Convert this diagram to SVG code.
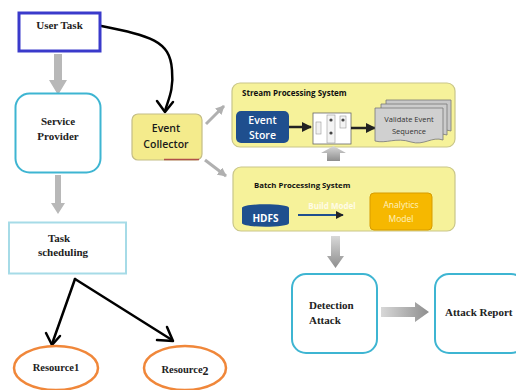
<svg xmlns="http://www.w3.org/2000/svg" width="516" height="390" viewBox="0 0 516 390">
<defs>
<style>
.serif{font-family:"Liberation Serif","Times New Roman",serif;font-weight:bold;fill:#222}
.sans{font-family:"Open Sans","Liberation Sans",Arial,sans-serif}
.cyanbox{fill:#fff;stroke:#3eb5d2;stroke-width:2}
.sys{fill:#f6f29a;stroke:#c9c68a;stroke-width:1.2}
.gray{fill:#b8b8b8}
.blk{fill:none;stroke:#000;stroke-width:2.5;stroke-linecap:round;stroke-linejoin:round}
.orange{fill:#fff;stroke:#f0873a;stroke-width:2.5}
</style>
<linearGradient id="hg" x1="0" y1="0" x2="1" y2="0">
<stop offset="0" stop-color="#d8d8d8"/><stop offset="1" stop-color="#8e8e8e"/>
</linearGradient>
<linearGradient id="vg" x1="0" y1="0" x2="0" y2="1">
<stop offset="0" stop-color="#d8d8d8"/><stop offset="1" stop-color="#8e8e8e"/>
</linearGradient>
<marker id="dk" viewBox="0 0 10 10" refX="9" refY="5" markerWidth="4" markerHeight="4" orient="auto">
<path d="M0,0 L10,5 L0,10 z" fill="#222"/>
</marker>
<marker id="gr" viewBox="0 0 10 10" refX="9" refY="5" markerWidth="3" markerHeight="3" orient="auto">
<path d="M0,0 L10,5 L0,10 z" fill="#b0b0b0"/>
</marker>
</defs>
<rect width="516" height="390" fill="#fff"/>

<g id="connectors">
<path class="gray" d="M54,54 H62 V80 H67 L58,95 L49,80 H54 Z"/>
<path class="gray" d="M55,175 H61 V203 H65 L58,214 L51,203 H55 Z"/>
<path class="blk" d="M101,26 C150,36 170,40 172,70 C174,90 168,100 165,111"/>
<path class="blk" d="M157,101 L165,112 L173,102"/>
<path class="blk" d="M75,279 L52,344"/>
<path class="blk" d="M46,333 L52,345 L60,336"/>
<path class="blk" d="M75,279 L172,340"/>
<path class="blk" d="M157,340 L173,341 L167,327"/>
<line x1="206" y1="124" x2="224" y2="106" stroke="#b0b0b0" stroke-width="3" marker-end="url(#gr)"/>
<line x1="205" y1="160" x2="226" y2="176" stroke="#b0b0b0" stroke-width="3" marker-end="url(#gr)"/>
<path fill="url(#vg)" d="M331,236 H340 V256 H344 L335.5,268 L327,256 H331 Z"/>
<path fill="url(#hg)" d="M381,307 H415 V302 L429,312 L415,322 V317 H381 Z"/>
</g>

<g id="user-task">
<rect x="19" y="13" width="81" height="38" fill="#fff" stroke="#3a3acb" stroke-width="3"/>
<text x="59.5" y="29" class="serif" font-size="11" text-anchor="middle">User Task</text>
</g>

<g id="service-provider">
<rect x="15.5" y="93.5" width="85" height="79" rx="14" class="cyanbox"/>
<text x="58" y="125" class="serif" font-size="11" text-anchor="middle">Service</text>
<text x="58" y="140" class="serif" font-size="11" text-anchor="middle">Provider</text>
</g>

<g id="task-scheduling">
<rect x="9" y="222.5" width="117" height="51" fill="#fff" stroke="#a6dbe7" stroke-width="2"/>
<text x="59" y="242" class="serif" font-size="11" text-anchor="middle">Task</text>
<text x="63" y="256" class="serif" font-size="11" text-anchor="middle">scheduling</text>
</g>

<g id="resource1">
<ellipse cx="56" cy="368" rx="42" ry="22" class="orange"/>
<text x="56" y="371" class="serif" font-size="10.5" text-anchor="middle">Resource1</text>
</g>

<g id="resource2">
<ellipse cx="185" cy="368" rx="41" ry="22" class="orange"/>
<text x="185" y="373" class="serif" font-size="10.5" text-anchor="middle">Resource<tspan font-size="12" dy="2">2</tspan></text>
</g>

<g id="event-collector">
<rect x="132" y="114" width="70" height="46" rx="6" fill="#f4eb8c" stroke="#c4bd86" stroke-width="1.2"/>
<line x1="164" y1="159.5" x2="199" y2="159.5" stroke="#b0504a" stroke-width="1.5"/>
<text x="166" y="132" class="sans" font-size="10.5" font-weight="600" fill="#1a1a1a" text-anchor="middle">Event</text>
<text x="166" y="148" class="sans" font-size="10.5" font-weight="600" fill="#1a1a1a" text-anchor="middle">Collector</text>
</g>

<g id="stream-processing-system">
<rect x="232" y="83" width="223" height="64" rx="8" class="sys"/>
<text x="242" y="96" class="sans" font-size="8" font-weight="bold" fill="#111">Stream Processing System</text>
<rect x="236" y="111" width="53" height="32" rx="5" fill="#1f4f8e"/>
<text x="262.5" y="124" class="sans" font-size="10.5" font-weight="600" fill="#fff" text-anchor="middle">Event</text>
<text x="262.5" y="139" class="sans" font-size="10.5" font-weight="600" fill="#fff" text-anchor="middle">Store</text>
<line x1="289" y1="127" x2="311" y2="127" stroke="#222" stroke-width="2.5" marker-end="url(#dk)"/>
<rect x="313" y="113" width="38" height="31" fill="#fff" stroke="#666" stroke-width="0.8"/>
<rect x="316" y="122" width="5" height="12" fill="#f2f2f2" stroke="#999" stroke-width="0.6"/>
<rect x="327" y="115" width="8" height="28" fill="#f4f4f4" stroke="#999" stroke-width="0.6"/>
<circle cx="331" cy="120" r="1.6" fill="#444"/>
<circle cx="331" cy="133" r="1.6" fill="#444"/>
<rect x="340" y="116" width="6" height="12" fill="#f4f4f4" stroke="#999" stroke-width="0.6"/>
<circle cx="343" cy="120" r="1.6" fill="#444"/>
<line x1="351" y1="128" x2="375" y2="128" stroke="#222" stroke-width="2.5" marker-end="url(#dk)"/>
<path d="M327,161 H340 V153 H346 L333.5,146 L321,153 H327 Z" fill="url(#vg)"/>
<path d="M386,100 H451 V131 C440,127 432,138 420,134 C405,129 395,136 386,133 Z" fill="#c8c8c8" stroke="#777" stroke-width="0.8"/>
<path d="M381,104 H447 V135 C436,131 428,142 416,138 C401,133 391,140 381,137 Z" fill="#cccccc" stroke="#777" stroke-width="0.8"/>
<path d="M375,108 H443 V140 C432,136 424,146 411,142 C396,137 386,144 375,141 Z" fill="#d0d0d0" stroke="#777" stroke-width="0.8"/>
<text x="409" y="122" class="sans" font-size="7.5" fill="#333" text-anchor="middle">Validate Event</text>
<text x="409" y="134" class="sans" font-size="7.5" fill="#333" text-anchor="middle">Sequence</text>
</g>

<g id="batch-processing-system">
<rect x="233" y="167" width="222" height="64" rx="8" class="sys"/>
<text x="254" y="188" class="sans" font-size="7.8" font-weight="bold" fill="#111">Batch Processing System</text>
<path d="M242,208 C242,203 289,203 289,208 V223 C289,228 242,228 242,223 Z" fill="#1f4f8e"/>
<text x="265.5" y="222" class="sans" font-size="10" font-weight="bold" fill="#fff" text-anchor="middle">HDFS</text>
<line x1="298" y1="215" x2="343" y2="215" stroke="#1f4f8e" stroke-width="2" marker-end="url(#dk)"/>
<text x="332" y="209" class="sans" font-size="8" font-weight="bold" fill="#fffbe6" text-anchor="middle">Build Model</text>
<rect x="370" y="193" width="62" height="37" rx="4" fill="#f6b800" stroke="#d79c00" stroke-width="1"/>
<text x="401" y="208" class="sans" font-size="8.5" fill="#fff3c0" text-anchor="middle">Analytics</text>
<text x="401" y="222" class="sans" font-size="8.5" fill="#fff3c0" text-anchor="middle">Model</text>
</g>

<g id="detection-attack">
<rect x="292" y="274" width="85" height="79" rx="14" class="cyanbox"/>
<text x="309" y="309" class="serif" font-size="11">Detection</text>
<text x="309" y="324" class="serif" font-size="11">Attack</text>
</g>

<g id="attack-report">
<rect x="435" y="274" width="90" height="79" rx="14" class="cyanbox"/>
<text x="445" y="316" class="serif" font-size="11">Attack Report</text>
</g>
</svg>
